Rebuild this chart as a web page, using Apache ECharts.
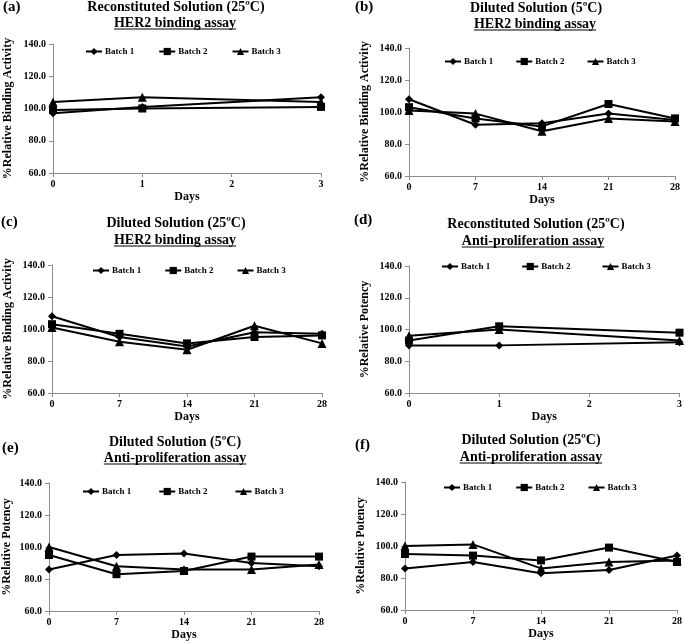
<!DOCTYPE html>
<html>
<head>
<meta charset="utf-8">
<script src="https://cdn.jsdelivr.net/npm/echarts@6/dist/echarts.min.js"></script>
<style>html,body{margin:0;padding:0;background:#fff}#c{width:685px;height:644px}</style>
</head>
<body>
<div id="c"></div>
<script>
// ---- data ----
const daysShort = [0, 1, 3];
const daysLong = [0, 7, 14, 21, 28];
const batchNames = ['Batch 1', 'Batch 2', 'Batch 3'];
const yTicks = [60, 80, 100, 120, 140];

const titlesLine1 = ['Reconstituted Solution (25ºC)', 'Diluted Solution (5ºC)', 'Diluted Solution (25ºC)',
                     'Reconstituted Solution (25ºC)', 'Diluted Solution (5ºC)', 'Diluted Solution (25ºC)'];
const titlesLine2 = ['HER2 binding assay', 'HER2 binding assay', 'HER2 binding assay',
                     'Anti-proliferation assay', 'Anti-proliferation assay', 'Anti-proliferation assay'];
const panelLetters = ['(a)', '(b)', '(c)', '(d)', '(e)', '(f)'];
const yNames = ['%Relative Binding Activity', '%Relative Binding Activity', '%Relative Binding Activity',
                '%Relative Potency', '%Relative Potency', '%Relative Potency'];
const xName = 'Days';

// (a) Reconstituted 25C HER2
const aB1 = [97, 101, 107];
const aB2 = [99, 100, 101];
const aB3 = [104, 107, 104];
// (b) Diluted 5C HER2
const bB1 = [108, 92, 93, 99, 95];
const bB2 = [103, 96, 91, 105, 96];
const bB3 = [101, 99, 88, 96, 94];
// (c) Diluted 25C HER2
const cB1 = [108, 95, 89, 98, 97];
const cB2 = [103, 97, 91, 95, 96];
const cB3 = [101, 92, 87, 102, 91];
// (d) Reconstituted 25C anti-proliferation
const dB1 = [90, 90, 92];
const dB2 = [93, 102, 98];
const dB3 = [96, 100, 93];
// (e) Diluted 5C anti-proliferation
const eB1 = [86, 95, 96, 90, 88];
const eB2 = [95, 83, 85, 94, 94];
const eB3 = [100, 88, 86, 86, 89];
// (f) Diluted 25C anti-proliferation
const fB1 = [86, 90, 83, 85, 94];
const fB2 = [95, 94, 91, 99, 90];
const fB3 = [100, 101, 86, 90, 91];

const panelData = [
  {days: daysShort, vals: [aB1, aB2, aB3]},
  {days: daysLong,  vals: [bB1, bB2, bB3]},
  {days: daysLong,  vals: [cB1, cB2, cB3]},
  {days: daysShort, vals: [dB1, dB2, dB3]},
  {days: daysLong,  vals: [eB1, eB2, eB3]},
  {days: daysLong,  vals: [fB1, fB2, fB3]}
];

// ---- layout ----
const FONT = '"Liberation Serif", "Times New Roman", serif';
const layout = [
  {grid: {left: 53, top: 44, width: 268, height: 129}, t1: [176, 7], t2: [175, 23], ul: 29, letter: [3, 7], leg: [85, 52, 24], yGap: 39},
  {grid: {left: 409, top: 48, width: 266, height: 128}, t1: [536, 8], t2: [535, 24], ul: 30, letter: [355, 7], leg: [444, 62, 22], yGap: 38},
  {grid: {left: 52, top: 265, width: 270, height: 128}, t1: [176, 223], t2: [175, 240], ul: 246, letter: [1, 222], leg: [92, 271, 23], yGap: 38},
  {grid: {left: 409, top: 266, width: 272, height: 127}, t1: [536, 224], t2: [533, 241], ul: 247, letter: [354, 220], leg: [441, 267, 31], yGap: 38},
  {grid: {left: 48, top: 483, width: 271, height: 128}, t1: [175, 442], t2: [175, 458], ul: 464, letter: [2, 448], leg: [82, 492, 27], yGap: 36},
  {grid: {left: 405, top: 482, width: 272, height: 128}, t1: [531, 440], t2: [531, 457], ul: 463, letter: [355, 445], leg: [443, 488, 23], yGap: 38}
];

const symbols = ['diamond', 'rect', 'triangle'];
const symSizes = [8, 8, 9];

const canvas = document.createElement('canvas');
const ctx = canvas.getContext('2d');
function textWidth(t, size) { ctx.font = 'bold ' + size + 'px ' + FONT; return ctx.measureText(t).width; }

const grids = [], xAxes = [], yAxes = [], series = [], legends = [], graphics = [];
const axisGray = '#8c8c8c';
layout.forEach((L, p) => {
  grids.push(L.grid);
  const isShort = panelData[p].days.length === 3;
  xAxes.push({
    type: 'value', gridIndex: p, min: 0, max: isShort ? 3 : 28, interval: isShort ? 1 : 7,
    name: xName, nameLocation: 'middle', nameGap: 18,
    nameTextStyle: {fontFamily: FONT, fontWeight: 'bold', fontSize: 12, color: '#000'},
    axisLine: {lineStyle: {color: axisGray, width: 1}},
    axisTick: {show: true, length: 4, lineStyle: {color: axisGray}},
    axisLabel: {fontFamily: FONT, fontWeight: 'bold', fontSize: 10, color: '#000', margin: 6},
    splitLine: {show: false}
  });
  yAxes.push({
    type: 'value', gridIndex: p, min: yTicks[0], max: yTicks[yTicks.length - 1], interval: 20,
    name: yNames[p], nameLocation: 'middle', nameGap: L.yGap,
    nameTextStyle: {fontFamily: FONT, fontWeight: 'bold', fontSize: 12, color: '#000'},
    axisLine: {show: true, lineStyle: {color: axisGray, width: 1}},
    axisTick: {show: true, length: 4, lineStyle: {color: axisGray}},
    axisLabel: {fontFamily: FONT, fontWeight: 'bold', fontSize: 10, color: '#000', margin: 7,
                formatter: v => v.toFixed(1)},
    splitLine: {show: false}
  });
  panelData[p].vals.forEach((vals, b) => {
    series.push({
      name: batchNames[b], type: 'line', xAxisIndex: p, yAxisIndex: p,
      data: panelData[p].days.map((d, i) => [d, vals[i]]),
      symbol: symbols[b], symbolSize: symSizes[b], showSymbol: true,
      itemStyle: {color: '#000'}, lineStyle: {color: '#000', width: 2},
      animation: false, z: 3 - b
    });
  });
  legends.push({
    data: batchNames, left: L.leg[0], top: L.leg[1] - 5, itemGap: L.leg[2], padding: 0,
    itemWidth: 16, itemHeight: 9, selectedMode: false,
    textStyle: {fontFamily: FONT, fontWeight: 'bold', fontSize: 9, color: '#000', padding: [0, 0, 0, -2]}
  });
  graphics.push({type: 'text', x: L.letter[0], y: L.letter[1],
    style: {text: panelLetters[p], font: 'bold 15px ' + FONT, fill: '#000', align: 'left', verticalAlign: 'middle'}});
  graphics.push({type: 'text', x: L.t1[0], y: L.t1[1],
    style: {text: titlesLine1[p], font: 'bold 14px ' + FONT, fill: '#000', align: 'center', verticalAlign: 'middle'}});
  graphics.push({type: 'text', x: L.t2[0], y: L.t2[1],
    style: {text: titlesLine2[p], font: 'bold 14px ' + FONT, fill: '#000', align: 'center', verticalAlign: 'middle'}});
  const w = textWidth(titlesLine2[p], 14);
  graphics.push({type: 'line', shape: {x1: L.t2[0] - w / 2, y1: L.ul, x2: L.t2[0] + w / 2, y2: L.ul},
    style: {stroke: '#000', lineWidth: 1}});
});

const chart = echarts.init(document.getElementById('c'), null, {renderer: 'canvas'});
chart.setOption({
  animation: false,
  backgroundColor: '#fff',
  grid: grids, xAxis: xAxes, yAxis: yAxes, series: series, legend: legends, graphic: graphics
});
</script>
</body>
</html>
